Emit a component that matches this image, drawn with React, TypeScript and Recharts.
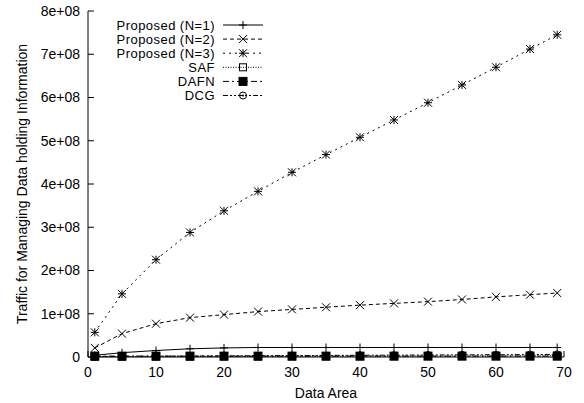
import React from 'react';
import { LineChart, Line, XAxis, YAxis, Legend } from 'recharts';

const dataArea = [1, 5, 10, 15, 20, 25, 30, 35, 40, 45, 50, 55, 60, 65, 69];
const proposedN1 = [4e6, 10e6, 15e6, 19e6, 21e6, 22e6, 22e6, 22e6, 22e6, 22e6, 22e6, 22e6, 22e6, 22e6, 22e6];
const proposedN2 = [21e6, 54e6, 77e6, 91e6, 98e6, 105e6, 110e6, 115e6, 120e6, 124e6, 128e6, 133e6, 139e6, 144e6, 148e6];
const proposedN3 = [57e6, 146e6, 225e6, 288e6, 338e6, 383e6, 427e6, 468e6, 508e6, 548e6, 588e6, 629e6, 670e6, 712e6, 745e6];
const saf = [0.5e6, 0.8e6, 1e6, 1e6, 1.2e6, 1.3e6, 1.5e6, 1.6e6, 1.8e6, 2e6, 2.2e6, 2.4e6, 2.6e6, 2.8e6, 3e6];
const dafn = [2e6, 2e6, 2e6, 2e6, 2e6, 2e6, 2e6, 2e6, 2e6, 2e6, 2e6, 2e6, 2e6, 2e6, 2e6];
const dcg = [1e6, 1.5e6, 2e6, 2.3e6, 2.6e6, 3e6, 3.3e6, 3.6e6, 4e6, 4.3e6, 4.6e6, 5e6, 5.3e6, 5.6e6, 6e6];

const xTicks = [0, 10, 20, 30, 40, 50, 60, 70];
const yTicks = [0, 1e8, 2e8, 3e8, 4e8, 5e8, 6e8, 7e8, 8e8];

const seriesNames = ['Proposed (N=1)', 'Proposed (N=2)', 'Proposed (N=3)', 'SAF', 'DAFN', 'DCG'];

const data = dataArea.map((x, i) => ({
  x,
  n1: proposedN1[i],
  n2: proposedN2[i],
  n3: proposedN3[i],
  saf: saf[i],
  dafn: dafn[i],
  dcg: dcg[i],
}));

type Shape = 'plus' | 'cross' | 'star' | 'square' | 'filled' | 'circle';

const seriesDefs: { key: string; name: string; shape: Shape; dash?: string }[] = [
  { key: 'n1', name: seriesNames[0], shape: 'plus' },
  { key: 'n2', name: seriesNames[1], shape: 'cross', dash: '4 3' },
  { key: 'n3', name: seriesNames[2], shape: 'star', dash: '2 4' },
  { key: 'saf', name: seriesNames[3], shape: 'square', dash: '1 1.5' },
  { key: 'dafn', name: seriesNames[4], shape: 'filled', dash: '6 3 2 3' },
  { key: 'dcg', name: seriesNames[5], shape: 'circle', dash: '5 2 2 2 2 2' },
];

const Marker = ({ cx, cy, shape }: { cx: number; cy: number; shape: Shape }) => {
  const s = 4;
  const st = { stroke: '#000', strokeWidth: 1, fill: 'none' };
  switch (shape) {
    case 'plus':
      return (
        <g>
          <line x1={cx - s} y1={cy} x2={cx + s} y2={cy} {...st} />
          <line x1={cx} y1={cy - s} x2={cx} y2={cy + s} {...st} />
        </g>
      );
    case 'cross':
      return (
        <g>
          <line x1={cx - s} y1={cy - s} x2={cx + s} y2={cy + s} {...st} />
          <line x1={cx - s} y1={cy + s} x2={cx + s} y2={cy - s} {...st} />
        </g>
      );
    case 'star':
      return (
        <g>
          <line x1={cx - s} y1={cy} x2={cx + s} y2={cy} {...st} />
          <line x1={cx} y1={cy - s} x2={cx} y2={cy + s} {...st} />
          <line x1={cx - s} y1={cy - s} x2={cx + s} y2={cy + s} {...st} />
          <line x1={cx - s} y1={cy + s} x2={cx + s} y2={cy - s} {...st} />
        </g>
      );
    case 'square':
      return <rect x={cx - 3.5} y={cy - 3.5} width={7} height={7} {...st} />;
    case 'filled':
      return <rect x={cx - 4} y={cy - 4} width={8} height={8} fill="#000" stroke="#000" />;
    case 'circle':
      return (
        <g>
          <circle cx={cx} cy={cy} r={3.5} {...st} />
          <circle cx={cx} cy={cy} r={1} fill="#000" />
        </g>
      );
  }
  return null;
};

const FONT = '"Liberation Sans", Arial, Helvetica, sans-serif';

const renderLegend = () => (
  <svg width={200} height={90} style={{ display: 'block' }}>
    {seriesDefs.map((s, i) => {
      const y = 8 + i * 14.1;
      return (
        <g key={s.key}>
          <text x={135} y={y} dy="0.35em" textAnchor="end" fontSize={13} letterSpacing={0.45} fontFamily={FONT} fill="#000">
            {s.name}
          </text>
          <line x1={143} y1={y} x2={183} y2={y} stroke="#000" strokeWidth={1} strokeDasharray={s.dash} />
          <Marker cx={163} cy={y} shape={s.shape} />
        </g>
      );
    })}
  </svg>
);

const yFmt = (v: number) => (v === 0 ? '0' : `${Math.round(v / 1e8)}e+08`);

const YLabel = (props: any) => {
  const vb = props.viewBox || { x: 0, y: 11, width: 88, height: 346 };
  const cx = 22;
  const cy = vb.y + vb.height / 2;
  return (
    <text x={cx} y={cy} transform={`rotate(-90 ${cx} ${cy})`} textAnchor="middle" dy="0.35em" fontSize={14} fontFamily={FONT} fill="#000">
      Traffic for Managing Data holding Information
    </text>
  );
};

const XLabel = (props: any) => {
  const vb = props.viewBox || { x: 88, y: 357, width: 476, height: 46 };
  const cx = vb.x + vb.width / 2;
  return (
    <text x={cx} y={398} textAnchor="middle" fontSize={14} fontFamily={FONT} fill="#000">
      Data Area
    </text>
  );
};

export default function App() {
  return (
    <div style={{ position: 'absolute', left: 0, top: 0, background: '#fff' }}>
      <LineChart width={584} height={403} data={data} margin={{ top: 11, right: 20, bottom: 0, left: 0 }}>
        <XAxis
          dataKey="x"
          type="number"
          domain={[0, 70]}
          ticks={xTicks}
          allowDataOverflow
          height={46}
          stroke="#000"
          tickSize={-6}
          tickMargin={16}
          tick={{ fill: '#000', fontSize: 14, fontFamily: FONT }}
          label={<XLabel />}
        />
        <XAxis
          xAxisId="top"
          dataKey="x"
          type="number"
          orientation="top"
          domain={[0, 70]}
          ticks={xTicks}
          height={0}
          stroke="#000"
          tickSize={-6}
          tickFormatter={() => ''}
        />
        <YAxis
          type="number"
          domain={[0, 8e8]}
          ticks={yTicks}
          width={88}
          stroke="#000"
          tickSize={-6}
          tickMargin={14}
          tickFormatter={yFmt}
          tick={{ fill: '#000', fontSize: 14, fontFamily: FONT }}
          label={<YLabel />}
        />
        <YAxis
          yAxisId="right"
          type="number"
          orientation="right"
          domain={[0, 8e8]}
          ticks={yTicks}
          width={0}
          stroke="#000"
          tickSize={-6}
          tickFormatter={() => ''}
        />
        <Legend
          layout="vertical"
          align="center"
          verticalAlign="middle"
          content={renderLegend}
          wrapperStyle={{ position: 'absolute', left: 80, top: 17, width: 200, height: 90 }}
        />
        {seriesDefs.map((s) => (
          <Line
            key={s.key}
            dataKey={s.key}
            name={s.name}
            stroke="#000"
            strokeWidth={1}
            strokeDasharray={s.dash}
            isAnimationActive={false}
            type="linear"
            dot={(p: any) => <Marker key={`${s.key}-${p.index}`} cx={p.cx} cy={p.cy} shape={s.shape} />}
            activeDot={false}
          />
        ))}
      </LineChart>
    </div>
  );
}
